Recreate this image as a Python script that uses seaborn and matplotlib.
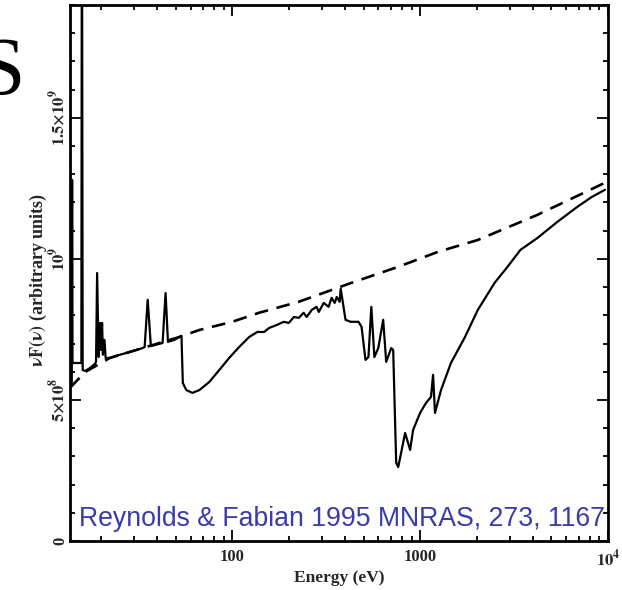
import matplotlib
matplotlib.use("Agg")
import matplotlib.pyplot as plt
import seaborn as sns
import numpy as np
import pandas as pd
from matplotlib.ticker import FixedLocator, MultipleLocator, LogLocator, NullFormatter

# ---- data ----
# absorbed spectrum (solid)
energy_abs = [13.7, 14.0, 14.06, 14.13, 15.75, 15.85, 16.0, 16.5, 17.5, 18.6,
              18.85, 19.1, 19.45, 19.8, 20.05, 20.3, 20.5, 20.9, 21.2, 22.35,
              25.2, 28.5, 33.4, 34.2, 35.5, 36.9, 41.1, 42.6, 44.2, 45.5,
              49.3, 53.7, 54.6, 57.0, 61.4, 66.9, 75.6, 85.3, 96.4, 109,
              123, 136, 148, 157, 173, 188, 200, 213, 226, 240,
              249, 265, 281, 289, 307, 326, 338, 351, 360, 373,
              378, 401, 427, 470, 488, 512, 531, 550, 571, 599,
              636, 660, 702, 719, 746, 765, 832, 885, 918, 1000,
              1074, 1143, 1172, 1200, 1292, 1459, 1733, 2028, 2491, 2920,
              3420, 4209, 5370, 6850, 8220, 9640]
flux_abs = [5.43, 5.60, 12.8, 6.31, 6.31, 25.0, 6.06, 6.03, 6.13, 6.28,
            6.35, 9.50, 6.52, 7.73, 6.77, 7.73, 6.60, 7.13, 6.49, 6.49,
            6.60, 6.70, 6.84, 6.88, 8.55, 6.91, 6.99, 7.02, 8.79, 7.06,
            7.13, 7.27, 5.60, 5.35, 5.25, 5.35, 5.64, 6.06, 6.49, 6.88,
            7.23, 7.41, 7.41, 7.55, 7.66, 7.77, 7.73, 7.94, 7.91, 8.09,
            7.94, 8.19, 8.30, 8.12, 8.44, 8.30, 8.62, 8.44, 8.65, 8.48,
            8.94, 7.84, 7.77, 7.77, 7.59, 6.42, 6.52, 8.30, 6.52, 6.84,
            7.84, 6.35, 6.84, 6.77, 2.77, 2.62, 3.83, 3.23, 3.94, 4.54,
            4.89, 5.11, 5.89, 4.54, 5.35, 6.31, 7.23, 8.19, 9.15, 9.72,
            10.32, 10.74, 11.31, 11.84, 12.20, 12.45]

# unabsorbed continuum (dashed)
energy_cont = [13.7, 16.5, 22.35, 33.4, 50.5, 66.9, 100, 139, 226, 431,
               765, 1245, 2028, 4209, 9640]
flux_cont = [5.43, 5.99, 6.49, 6.84, 7.20, 7.48, 7.77, 8.09, 8.48, 9.15,
             9.72, 10.25, 10.67, 11.56, 12.70]

scale = 1e8
ytick_vals = [0, 5e8, 1e9, 1.5e9]
ytick_labels = ["0", r"$\mathbf{5{\times}10^8}$", r"$\mathbf{10^9}$", r"$\mathbf{1.5{\times}10^9}$"]
xtick_vals = [100, 1000, 10000]
xtick_labels = ["100", "1000", r"$\mathbf{10^4}$"]
citation = "Reynolds & Fabian 1995 MNRAS, 273, 1167"

df_abs = pd.DataFrame({"E": energy_abs, "F": np.array(flux_abs) * scale})
df_cont = pd.DataFrame({"E": energy_cont, "F": np.array(flux_cont) * scale})

sns.set_style("white")
plt.rcParams["mathtext.fontset"] = "stix"
serif = ["Liberation Serif", "DejaVu Serif"]

fig = plt.figure(figsize=(6.22, 5.90), dpi=100)
ax = fig.add_axes([70 / 622, 1 - 541 / 590, 538 / 622, 536 / 590])

sns.lineplot(data=df_cont, x="E", y="F", ax=ax, color="black", lw=1.9,
             linestyle=(0, (5.2, 3.3)), sort=False, estimator=None)
sns.lineplot(data=df_abs, x="E", y="F", ax=ax, color="black", lw=1.6,
             sort=False, estimator=None)

ax.set_xscale("log")
ax.set_xlim(13.7, 10000)
ax.set_ylim(0, 1.9e9)

ax.xaxis.set_major_locator(FixedLocator(xtick_vals))
ax.xaxis.set_minor_locator(LogLocator(base=10, subs=np.arange(2, 10)))
ax.xaxis.set_minor_formatter(NullFormatter())
ax.set_xticklabels(xtick_labels, fontfamily=serif, fontweight="bold", fontsize=12)
ax.yaxis.set_major_locator(FixedLocator(ytick_vals))
ax.yaxis.set_minor_locator(MultipleLocator(1e8))
ax.set_yticklabels(ytick_labels, fontfamily=serif, fontweight="bold", fontsize=12,
                   rotation=90, va="center")

ax.tick_params(which="both", direction="in", top=True, right=True, bottom=True, left=True,
               color="black", width=1.3)
ax.tick_params(which="major", length=8)
ax.tick_params(axis="x", which="major", pad=6)
ax.tick_params(axis="y", which="major", pad=1)
ax.tick_params(which="minor", length=3.5)

for s in ax.spines.values():
    s.set_color("black")
    s.set_linewidth(2.0)

ax.set_xlabel("Energy (eV)", fontfamily=serif, fontweight="bold", fontsize=12.5)
ax.xaxis.set_label_coords(0.5, -0.069)
ax.xaxis.label.set_va("center")
ax.set_ylabel(r"$\mathbf{\nu F(\nu)}$ (arbitrary units)", fontfamily=serif, fontweight="bold",
              fontsize=13)
ax.yaxis.set_label_coords(-0.058, 0.487)
ax.yaxis.label.set_va("center")

ax.text(0.995, 0.041, citation, transform=ax.transAxes, ha="right", va="center",
        color="#3b3bab", fontsize=19.2, fontfamily=["Liberation Sans", "DejaVu Sans"])

fig.text(25 / 622, 1 - 74 / 590, "S", ha="right", va="center", fontsize=60,
         fontfamily=serif, color="black")

fig.savefig("out.png", dpi=100)
